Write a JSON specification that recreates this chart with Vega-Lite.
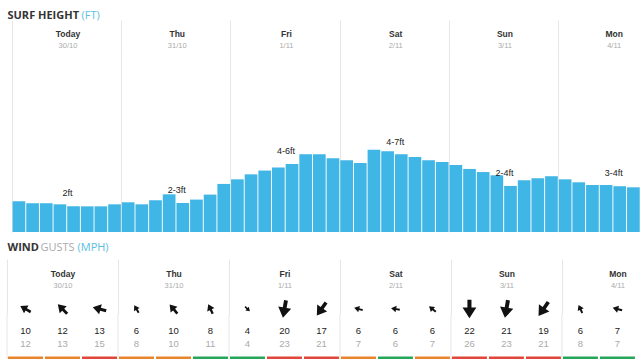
{
  "$schema": "https://vega.github.io/schema/vega-lite/v6.json",
  "padding": {"left": 6, "top": 9, "right": 0, "bottom": 0},
  "background": "white",
  "config": {"view": {"stroke": null}, "font": "Liberation Sans"},
  "datasets": {
    "surf": [
      {"t": 0, "ft": 2.27}, {"t": 3, "ft": 2.13}, {"t": 6, "ft": 2.13}, {"t": 9, "ft": 2.05},
      {"t": 12, "ft": 1.9}, {"t": 15, "ft": 1.9}, {"t": 18, "ft": 1.9}, {"t": 21, "ft": 2.05},
      {"t": 24, "ft": 2.2}, {"t": 27, "ft": 2.05}, {"t": 30, "ft": 2.35}, {"t": 33, "ft": 2.79},
      {"t": 36, "ft": 2.15}, {"t": 39, "ft": 2.4}, {"t": 42, "ft": 2.77}, {"t": 45, "ft": 3.56},
      {"t": 48, "ft": 3.9}, {"t": 51, "ft": 4.27}, {"t": 54, "ft": 4.55}, {"t": 57, "ft": 4.77},
      {"t": 60, "ft": 5.04}, {"t": 63, "ft": 5.76}, {"t": 66, "ft": 5.76}, {"t": 69, "ft": 5.46},
      {"t": 72, "ft": 5.31}, {"t": 75, "ft": 5.11}, {"t": 78, "ft": 6.1}, {"t": 81, "ft": 5.98},
      {"t": 84, "ft": 5.76}, {"t": 87, "ft": 5.56}, {"t": 90, "ft": 5.31}, {"t": 93, "ft": 5.19},
      {"t": 96, "ft": 4.96}, {"t": 99, "ft": 4.67}, {"t": 102, "ft": 4.44}, {"t": 105, "ft": 4.2},
      {"t": 108, "ft": 3.41}, {"t": 111, "ft": 3.83}, {"t": 114, "ft": 3.98}, {"t": 117, "ft": 4.13},
      {"t": 120, "ft": 3.9}, {"t": 123, "ft": 3.68}, {"t": 126, "ft": 3.48}, {"t": 129, "ft": 3.48},
      {"t": 132, "ft": 3.39}, {"t": 135, "ft": 3.31}
    ],
    "ranges": [
      {"t": 0, "range": "2ft", "at": 2.89},
      {"t": 24, "range": "2-3ft", "at": 3.1},
      {"t": 48, "range": "4-6ft", "at": 6.0},
      {"t": 72, "range": "4-7ft", "at": 6.65},
      {"t": 96, "range": "2-4ft", "at": 4.37},
      {"t": 120, "range": "3-4ft", "at": 4.37}
    ],
    "wind": [
      {"t": 4, "speed": 10, "gust": 12, "dir": 300, "quality": "fair"},
      {"t": 12, "speed": 12, "gust": 13, "dir": 315, "quality": "fair"},
      {"t": 20, "speed": 13, "gust": 15, "dir": 285, "quality": "poor"},
      {"t": 28, "speed": 6, "gust": 8, "dir": 330, "quality": "fair"},
      {"t": 36, "speed": 10, "gust": 10, "dir": 320, "quality": "fair"},
      {"t": 44, "speed": 8, "gust": 11, "dir": 335, "quality": "good"},
      {"t": 52, "speed": 4, "gust": 4, "dir": 135, "quality": "good"},
      {"t": 60, "speed": 20, "gust": 23, "dir": 190, "quality": "poor"},
      {"t": 68, "speed": 17, "gust": 21, "dir": 215, "quality": "poor"},
      {"t": 76, "speed": 6, "gust": 7, "dir": 285, "quality": "fair"},
      {"t": 84, "speed": 6, "gust": 6, "dir": 280, "quality": "good"},
      {"t": 92, "speed": 6, "gust": 7, "dir": 310, "quality": "fair"},
      {"t": 100, "speed": 22, "gust": 26, "dir": 180, "quality": "poor"},
      {"t": 108, "speed": 21, "gust": 23, "dir": 190, "quality": "poor"},
      {"t": 116, "speed": 19, "gust": 21, "dir": 215, "quality": "poor"},
      {"t": 124, "speed": 6, "gust": 8, "dir": 335, "quality": "good"},
      {"t": 132, "speed": 7, "gust": 7, "dir": 285, "quality": "good"}
    ],
    "days": [{"start": 0}, {"start": 24}, {"start": 48}, {"start": 72}, {"start": 96}, {"start": 120}]
  },
  "spacing": 9,
  "vconcat": [
    {
      "width": 634,
      "height": 180,
      "resolve": {"axis": {"x": "independent"}},
      "layer": [
        {
          "data": {"name": "surf"},
          "mark": {"type": "bar", "width": 12.7, "xOffset": 6.94, "color": "#3fb6e6", "clip": true},
          "encoding": {
            "x": {
              "field": "t", "type": "quantitative",
              "scale": {"domain": [0, 137.1], "nice": false, "zero": false},
              "axis": {
                "orient": "top", "values": [0, 24, 48, 72, 96, 120],
                "labelExpr": "['Today','Thu','Fri','Sat','Sun','Mon'][datum.value/24]",
                "labelOffset": 55.5, "labelPadding": -13, "labelBaseline": "middle",
                "labelFontSize": 8.5, "labelFontWeight": "bold", "labelColor": "#333",
                "labelFlush": false, "labelOverlap": false,
                "ticks": true, "tickSize": 32, "tickColor": "#e6e6e6", "tickWidth": 1,
                "domain": false, "grid": true, "gridColor": "#e6e6e6",
                "title": "SURF HEIGHT", "titleX": 0, "titleY": -34, "titleAlign": "left",
                "titleBaseline": "alphabetic", "titleFont": "Open Sans", "titleFontSize": 11,
                "titleFontWeight": "bold", "titleColor": "#333"
              }
            },
            "y": {
              "field": "ft", "type": "quantitative",
              "scale": {"domain": [0, 13.33], "nice": false},
              "axis": {
                "title": "(FT)", "titleAngle": 0, "titleX": 74, "titleY": -34, "titleAlign": "left",
                "titleBaseline": "alphabetic", "titleFont": "Open Sans", "titleFontSize": 11,
                "titleFontWeight": "normal", "titleColor": "#5bc0de",
                "labels": false, "ticks": false, "domain": false, "grid": false
              }
            }
          }
        },
        {
          "data": {"name": "ranges"},
          "mark": {"type": "text", "xOffset": 55.5, "fontSize": 9, "color": "#222", "baseline": "middle"},
          "encoding": {
            "x": {
              "field": "t", "type": "quantitative",
              "axis": {
                "orient": "top", "values": [0, 24, 48, 72, 96, 120],
                "labelExpr": "['30/10','31/10','1/11','2/11','3/11','4/11'][datum.value/24]",
                "labelOffset": 55.5, "labelPadding": 7, "labelBaseline": "middle",
                "labelFontSize": 7.5, "labelColor": "#aaa",
                "labelFlush": false, "labelOverlap": false,
                "ticks": false, "domain": false, "grid": false, "title": null
              }
            },
            "y": {"field": "at", "type": "quantitative"},
            "text": {"field": "range"}
          }
        }
      ]
    },
    {
      "width": 634,
      "height": 45,
      "resolve": {"axis": {"x": "independent"}},
      "layer": [
        {
          "data": {"name": "days"},
          "mark": {"type": "rule", "color": "#e6e6e6", "strokeWidth": 1},
          "encoding": {
            "x": {
              "field": "start", "type": "quantitative",
              "scale": {"domain": [0, 137.1], "nice": false, "zero": false},
              "axis": {
                "orient": "top", "values": [0, 24, 48, 72, 96, 120],
                "labelExpr": "['30/10','31/10','1/11','2/11','3/11','4/11'][datum.value/24]",
                "labelOffset": 55.5, "labelPadding": 29, "labelBaseline": "middle",
                "labelFontSize": 7.5, "labelColor": "#aaa",
                "labelFlush": false, "labelOverlap": false,
                "ticks": false, "domain": false, "grid": false,
                "title": "GUSTS", "titleX": 33, "titleY": -64, "titleAlign": "left",
                "titleBaseline": "alphabetic", "titleFont": "Open Sans", "titleFontSize": 11,
                "titleFontWeight": "normal", "titleColor": "#aaa"
              }
            }
          }
        },
        {
          "data": {"name": "wind"},
          "transform": [{"fold": ["dir"], "as": ["key", "value"]}],
          "mark": {
            "type": "point", "filled": true, "opacity": 1, "color": "#111", "strokeWidth": 0, "yOffset": -8,
            "shape": "M0,-1L0.75,0.15L0.22,0.15L0.22,1L-0.22,1L-0.22,0.15L-0.75,0.15Z"
          },
          "encoding": {
            "x": {
              "field": "t", "type": "quantitative",
              "axis": {
                "orient": "top", "values": [0, 24, 48, 72, 96, 120],
                "labelExpr": "['Today','Thu','Fri','Sat','Sun','Mon'][datum.value/24]",
                "labelOffset": 55.5, "labelPadding": -14, "labelBaseline": "middle",
                "labelFontSize": 8.5, "labelFontWeight": "bold", "labelColor": "#333",
                "labelFlush": false, "labelOverlap": false,
                "ticks": true, "tickSize": 55, "tickColor": "#e6e6e6", "tickWidth": 1,
                "domain": false, "grid": false,
                "title": "WIND", "titleX": 0, "titleY": -64, "titleAlign": "left",
                "titleBaseline": "alphabetic", "titleFont": "Open Sans", "titleFontSize": 11,
                "titleFontWeight": "bold", "titleColor": "#333"
              }
            },
            "y": {
              "field": "key", "type": "nominal",
              "scale": {"type": "point", "domain": ["dir", "speed", "gust", "quality"], "padding": 0.2308},
              "axis": {
                "title": "(MPH)", "titleAngle": 0, "titleX": 70, "titleY": -64, "titleAlign": "left",
                "titleBaseline": "alphabetic", "titleFont": "Open Sans", "titleFontSize": 11,
                "titleFontWeight": "normal", "titleColor": "#5bc0de",
                "labels": false, "ticks": false, "domain": false, "grid": false
              }
            },
            "angle": {"field": "value", "type": "quantitative", "scale": {"domain": [0, 360], "range": [0, 360]}},
            "size": {"field": "speed", "type": "quantitative", "scale": {"domain": [4, 22], "range": [45, 340]}, "legend": null}
          }
        },
        {
          "data": {"name": "wind"},
          "transform": [{"fold": ["speed", "gust"], "as": ["key", "value"]}],
          "mark": {"type": "text", "fontSize": 9.5, "dy": 1},
          "encoding": {
            "x": {"field": "t", "type": "quantitative"},
            "y": {"field": "key", "type": "nominal"},
            "text": {"field": "value", "type": "quantitative"},
            "color": {
              "field": "key", "type": "nominal",
              "scale": {"domain": ["speed", "gust"], "range": ["#222", "#aaa"]},
              "legend": null
            }
          }
        },
        {
          "data": {"name": "wind"},
          "transform": [{"fold": ["quality"], "as": ["key", "rating"]}],
          "mark": {"type": "tick", "orient": "horizontal", "size": 35, "thickness": 3, "yOffset": 2, "opacity": 1},
          "encoding": {
            "x": {"field": "t", "type": "quantitative"},
            "y": {"field": "key", "type": "nominal"},
            "fill": {
              "field": "rating", "type": "nominal",
              "scale": {"domain": ["good", "fair", "poor"], "range": ["#26a65b", "#e8842c", "#e0463a"]},
              "legend": null
            }
          }
        }
      ]
    }
  ]
}
